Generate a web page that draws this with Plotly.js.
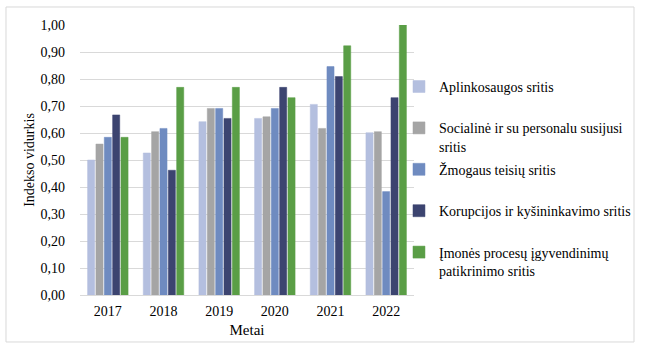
<!DOCTYPE html>
<html>
<head>
<meta charset="utf-8">
<script src="https://cdn.plot.ly/plotly-3.0.1.min.js"></script>
<style>html,body{margin:0;padding:0;background:#fff;}#chart{width:650px;height:357px;}</style>
</head>
<body>
<div id="chart"></div>
<script>
const years = ["2017", "2018", "2019", "2020", "2021", "2022"];
const seriesNames = [
  "Aplinkosaugos sritis<br> ",
  "Socialinė ir su personalu susijusi<br>sritis",
  "Žmogaus teisių sritis<br> ",
  "Korupcijos ir kyšininkavimo sritis<br> ",
  "Įmonės procesų įgyvendinimų<br>patikrinimo sritis"
];
const aplinkosauga = [0.50, 0.526, 0.642, 0.654, 0.706, 0.601];
const socialine = [0.559, 0.605, 0.691, 0.660, 0.617, 0.605];
const zmogausTeises = [0.584, 0.617, 0.691, 0.691, 0.846, 0.383];
const korupcija = [0.667, 0.462, 0.654, 0.769, 0.809, 0.731];
const procesai = [0.584, 0.769, 0.769, 0.731, 0.923, 1.00];
const colors = ["#b4bfdf", "#a5a5a5", "#6f8bc0", "#3c4470", "#5a9e46"];
const values = [aplinkosauga, socialine, zmogausTeises, korupcija, procesai];

const fam = "Liberation Serif";
const traces = values.map((v, i) => ({
  type: "bar",
  name: seriesNames[i],
  x: years,
  y: v,
  legendgroup: "g" + i,
  marker: {color: colors[i], line: {color: colors[i], width: 0.5}}
}));

const layout = {
  width: 650, height: 357,
  margin: {l: 80, r: 236, t: 25, b: 62},
  paper_bgcolor: "#fff", plot_bgcolor: "#fff",
  separators: ", ",
  barmode: "group",
  bargap: 0.25,
  bargroupgap: 0.15,
  font: {family: fam, size: 14, color: "#000"},
  xaxis: {
    type: "category",
    showgrid: false,
    showline: true, linecolor: "#d9d9d9", linewidth: 1,
    ticks: "", tickfont: {family: fam, size: 14, color: "#000"},
    ticklabelstandoff: 3,
    title: {text: "Metai", font: {family: fam, size: 15, color: "#000"}, standoff: 6}
  },
  yaxis: {
    range: [0, 1], dtick: 0.1, tickformat: ".2f",
    showgrid: true, gridcolor: "#d9d9d9", gridwidth: 1,
    zeroline: false, showline: false, ticks: "",
    tickfont: {family: fam, size: 14, color: "#000"}, ticklabelstandoff: 14,
    title: {text: "Indekso vidurkis", font: {family: fam, size: 14, color: "#000"}, standoff: 2}
  },
  legend: {
    x: 0.955, xanchor: "left", y: 0.83, yanchor: "top",
    font: {family: fam, size: 14, color: "#000"}, valign: "top",
    tracegroupgap: 2, traceorder: "grouped",
    bgcolor: "rgba(0,0,0,0)"
  },
  shapes: [{
    type: "rect", xref: "paper", yref: "paper",
    x0: -0.2216, x1: 1.6587, y0: -0.174, y1: 1.0667,
    line: {color: "#d9d9d9", width: 1}
  }]
};
Plotly.newPlot("chart", traces, layout, {displayModeBar: false, staticPlot: true});
</script>
</body>
</html>
